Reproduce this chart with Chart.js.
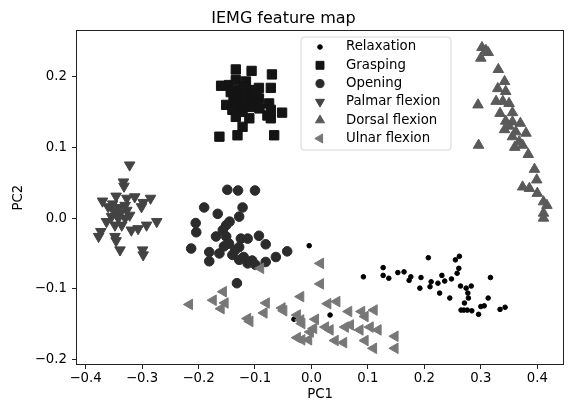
<!DOCTYPE html>
<html>
<head>
<meta charset="utf-8">
<script src="https://cdn.jsdelivr.net/npm/chart.js@4.4.1/dist/chart.umd.min.js"></script>
<style>
  html, body { margin: 0; padding: 0; background: #fff; }
</style>
</head>
<body>
<canvas id="map" width="572" height="403"></canvas>
<script>
const xTicks = [-0.4, -0.3, -0.2, -0.1, 0.0, 0.1, 0.2, 0.3, 0.4];
const yTicks = [-0.2, -0.1, 0.0, 0.1, 0.2];
const labels = ["Relaxation", "Grasping", "Opening", "Palmar flexion", "Dorsal flexion", "Ulnar flexion"];

const relaxation = [
  [0.092, -0.083], [0.127, -0.070], [0.127, -0.081], [0.137, -0.085], [0.153, -0.077],
  [0.164, -0.076], [0.176, -0.083], [0.173, -0.088], [0.194, -0.084], [0.192, -0.099],
  [0.207, -0.056], [0.212, -0.090], [0.210, -0.097], [0.224, -0.092], [0.231, -0.081],
  [0.236, -0.089], [0.248, -0.086], [0.227, -0.106], [0.245, -0.113], [0.255, -0.059],
  [0.262, -0.054], [0.261, -0.071], [0.258, -0.078], [0.264, -0.096], [0.274, -0.099],
  [0.283, -0.096], [0.277, -0.106], [0.278, -0.113], [0.271, -0.120], [0.265, -0.130],
  [0.270, -0.130], [0.284, -0.131], [0.296, -0.136], [0.300, -0.125], [0.306, -0.124],
  [0.313, -0.113], [0.317, -0.084], [0.334, -0.129], [0.343, -0.126], [0.276, -0.130],
  [-0.004, -0.039], [0.033, -0.137], [-0.031, -0.143]
];
const grasping = [
  [-0.134, 0.210], [-0.106, 0.208], [-0.070, 0.203], [-0.160, 0.187], [-0.146, 0.188],
  [-0.134, 0.195], [-0.116, 0.193], [-0.093, 0.184], [-0.072, 0.184], [-0.143, 0.178],
  [-0.128, 0.181], [-0.110, 0.181], [-0.120, 0.186], [-0.137, 0.171], [-0.119, 0.171],
  [-0.102, 0.171], [-0.093, 0.169], [-0.098, 0.175], [-0.138, 0.166], [-0.128, 0.166],
  [-0.115, 0.168], [-0.108, 0.165], [-0.151, 0.160], [-0.134, 0.162], [-0.116, 0.162],
  [-0.099, 0.160], [-0.075, 0.162], [-0.140, 0.153], [-0.122, 0.153], [-0.105, 0.157],
  [-0.118, 0.158], [-0.092, 0.155], [-0.125, 0.150], [-0.072, 0.153], [-0.052, 0.149],
  [-0.134, 0.143], [-0.110, 0.141], [-0.078, 0.145], [-0.072, 0.141], [-0.122, 0.129],
  [-0.163, 0.115], [-0.131, 0.117], [-0.066, 0.117]
];
const opening = [
  [-0.149, 0.040], [-0.130, 0.039], [-0.100, 0.039], [-0.190, 0.015], [-0.166, 0.006],
  [-0.122, 0.015], [-0.128, 0.002], [-0.205, -0.007], [-0.204, -0.020], [-0.151, -0.010],
  [-0.157, -0.017], [-0.145, -0.005], [-0.169, -0.026], [-0.151, -0.026], [-0.125, -0.029],
  [-0.113, -0.029], [-0.093, -0.025], [-0.081, -0.037], [-0.146, -0.036], [-0.155, -0.040],
  [-0.128, -0.041], [-0.135, -0.045], [-0.213, -0.043], [-0.181, -0.048], [-0.163, -0.050],
  [-0.140, -0.052], [-0.120, -0.055], [-0.043, -0.047], [-0.063, -0.055], [-0.181, -0.061],
  [-0.128, -0.059], [-0.105, -0.060], [-0.113, -0.064], [-0.099, -0.066], [-0.081, -0.062],
  [-0.132, -0.092]
];
const palmar = [
  [-0.322, 0.075], [-0.333, 0.051], [-0.332, 0.045], [-0.346, 0.031], [-0.327, 0.028],
  [-0.313, 0.030], [-0.370, 0.024], [-0.298, 0.022], [-0.285, 0.028], [-0.301, 0.016],
  [-0.360, 0.016], [-0.351, 0.011], [-0.339, 0.007], [-0.327, 0.011], [-0.340, 0.015],
  [-0.330, 0.018], [-0.352, 0.020], [-0.345, 0.005], [-0.354, 0.002], [-0.342, 0.000],
  [-0.330, 0.000], [-0.322, 0.004], [-0.363, -0.005], [-0.348, -0.010], [-0.336, -0.010],
  [-0.274, -0.005], [-0.292, -0.010], [-0.307, -0.015], [-0.319, -0.017], [-0.373, -0.019],
  [-0.377, -0.026], [-0.348, -0.026], [-0.346, -0.032], [-0.339, -0.045], [-0.299, -0.045],
  [-0.298, -0.052]
];
const dorsal = [
  [0.302, 0.241], [0.309, 0.237], [0.313, 0.234], [0.300, 0.226], [0.331, 0.210],
  [0.342, 0.193], [0.330, 0.183], [0.344, 0.179], [0.295, 0.160], [0.327, 0.165],
  [0.339, 0.165], [0.350, 0.162], [0.334, 0.148], [0.356, 0.149], [0.344, 0.137],
  [0.356, 0.136], [0.350, 0.130], [0.370, 0.134], [0.342, 0.125], [0.362, 0.122],
  [0.380, 0.120], [0.356, 0.115], [0.368, 0.108], [0.374, 0.103], [0.360, 0.100],
  [0.296, 0.103], [0.384, 0.090], [0.395, 0.069], [0.399, 0.054], [0.374, 0.044],
  [0.386, 0.042], [0.400, 0.035], [0.411, 0.023], [0.417, 0.018], [0.411, 0.007],
  [0.411, 0.000]
];
const ulnar = [
  [0.016, -0.064], [0.016, -0.093], [-0.216, -0.122], [-0.174, -0.116], [-0.156, -0.104],
  [-0.153, -0.120], [-0.160, -0.128], [-0.113, -0.142], [-0.109, -0.146], [-0.084, -0.134],
  [-0.080, -0.120], [-0.052, -0.127], [-0.049, -0.131], [-0.019, -0.111], [-0.025, -0.137],
  [-0.019, -0.144], [-0.017, -0.149], [0.007, -0.143], [0.004, -0.156], [-0.002, -0.161],
  [-0.025, -0.169], [-0.017, -0.172], [-0.005, -0.172], [0.029, -0.121], [0.045, -0.118],
  [0.025, -0.154], [0.033, -0.158], [0.066, -0.132], [0.089, -0.132], [0.111, -0.130],
  [0.095, -0.139], [0.069, -0.151], [0.060, -0.154], [0.086, -0.158], [0.104, -0.154],
  [0.118, -0.158], [0.042, -0.173], [0.057, -0.176], [0.095, -0.173], [0.110, -0.184],
  [0.148, -0.167], [0.148, -0.184], [-0.090, -0.071]
];

const styles = [
  { color: "#000000", pointStyle: "circle", radius: 2.3, rotation: 0 },
  { color: "#141414", pointStyle: "rect", radius: 6.6, rotation: 0 },
  { color: "#2b2b2b", pointStyle: "circle", radius: 4.8, rotation: 0 },
  { color: "#444444", pointStyle: "triangle", radius: 6.1, rotation: 180 },
  { color: "#5a5a5a", pointStyle: "triangle", radius: 6.1, rotation: 0 },
  { color: "#777777", pointStyle: "triangle", radius: 6.1, rotation: -90 },
];
const seriesData = [relaxation, grasping, opening, palmar, dorsal, ulnar];

const font = "'DejaVu Sans', sans-serif";

function tickText(v) {
  const s = Math.abs(v).toFixed(1);
  return v < -1e-9 ? "\u2212" + s : s;
}

const frameAndLegend = {
  id: "frameAndLegend",
  afterDatasetsDraw(chart) {
    const { ctx, chartArea: a } = chart;
    ctx.save();
    ctx.strokeStyle = "#222";
    ctx.lineWidth = 1;
    ctx.strokeRect(Math.round(a.left) + 0.5, Math.round(a.top) + 0.5,
      Math.round(a.right - a.left) - 1, Math.round(a.bottom - a.top) - 1);

    // legend box, upper centre like matplotlib's 'best' placement here
    const bx = 301, by = 37, bw = 150, bh = 113, r = 3;
    ctx.beginPath();
    ctx.moveTo(bx + r, by);
    ctx.arcTo(bx + bw, by, bx + bw, by + bh, r);
    ctx.arcTo(bx + bw, by + bh, bx, by + bh, r);
    ctx.arcTo(bx, by + bh, bx, by, r);
    ctx.arcTo(bx, by, bx + bw, by, r);
    ctx.closePath();
    ctx.fillStyle = "rgba(255,255,255,0.8)";
    ctx.fill();
    ctx.strokeStyle = "rgba(204,204,204,0.8)";
    ctx.stroke();

    ctx.font = "13.3px " + font;
    ctx.textBaseline = "middle";
    ctx.textAlign = "left";
    labels.forEach((name, i) => {
      const st = styles[i];
      const y = 47 + i * 18.3;
      ctx.fillStyle = st.color;
      ctx.strokeStyle = st.color;
      Chart.helpers.drawPoint(ctx, {
        pointStyle: st.pointStyle,
        radius: i === 0 ? st.radius : st.radius * 0.85,
        rotation: st.rotation,
        borderWidth: 1,
      }, 320, y);
      ctx.fillStyle = "#000";
      ctx.fillText(name, 346, y);
    });
    ctx.restore();
  },
};

const datasets = seriesData.map((pts, i) => ({
  label: labels[i],
  data: pts.map(([x, y]) => ({ x, y })),
  pointStyle: styles[i].pointStyle,
  pointRadius: styles[i].radius,
  pointRotation: styles[i].rotation,
  backgroundColor: styles[i].color,
  borderColor: styles[i].color,
  borderWidth: 1,
  order: labels.length - i,
}));

new Chart(document.getElementById("map"), {
  type: "scatter",
  data: { datasets },
  plugins: [frameAndLegend],
  options: {
    responsive: false,
    animation: false,
    devicePixelRatio: 1,
    layout: { padding: { left: 0, right: 5, top: 0, bottom: 0 } },
    plugins: {
      legend: { display: false },
      tooltip: { enabled: false },
      title: {
        display: true,
        text: "IEMG feature map",
        color: "#000",
        font: { family: font, size: 16, weight: "normal" },
        padding: { top: 9, bottom: 2 },
      },
    },
    scales: {
      x: {
        type: "linear",
        min: -0.417,
        max: 0.448,
        afterBuildTicks(scale) { scale.ticks = xTicks.map((v) => ({ value: v })); },
        afterFit(scale) { scale.height = 38; },
        ticks: { color: "#000", padding: 2, font: { family: font, size: 13.3 }, callback: tickText, maxRotation: 0 },
        grid: { drawOnChartArea: false, drawTicks: true, tickLength: 4, tickColor: "#222" },
        border: { display: false },
        title: { display: true, text: "PC1", color: "#000", padding: { top: 0, bottom: 0 }, font: { family: font, size: 13.3 } },
      },
      y: {
        type: "linear",
        min: -0.2076,
        max: 0.2655,
        afterBuildTicks(scale) { scale.ticks = yTicks.map((v) => ({ value: v })); },
        afterFit(scale) { scale.width = 76; },
        ticks: { color: "#000", padding: 5, font: { family: font, size: 13.3 }, callback: tickText },
        grid: { drawOnChartArea: false, drawTicks: true, tickLength: 4, tickColor: "#222" },
        border: { display: false },
        title: { display: true, text: "PC2", color: "#000", padding: { top: 11, bottom: 0 }, font: { family: font, size: 13.3 } },
      },
    },
  },
});
</script>
</body>
</html>
